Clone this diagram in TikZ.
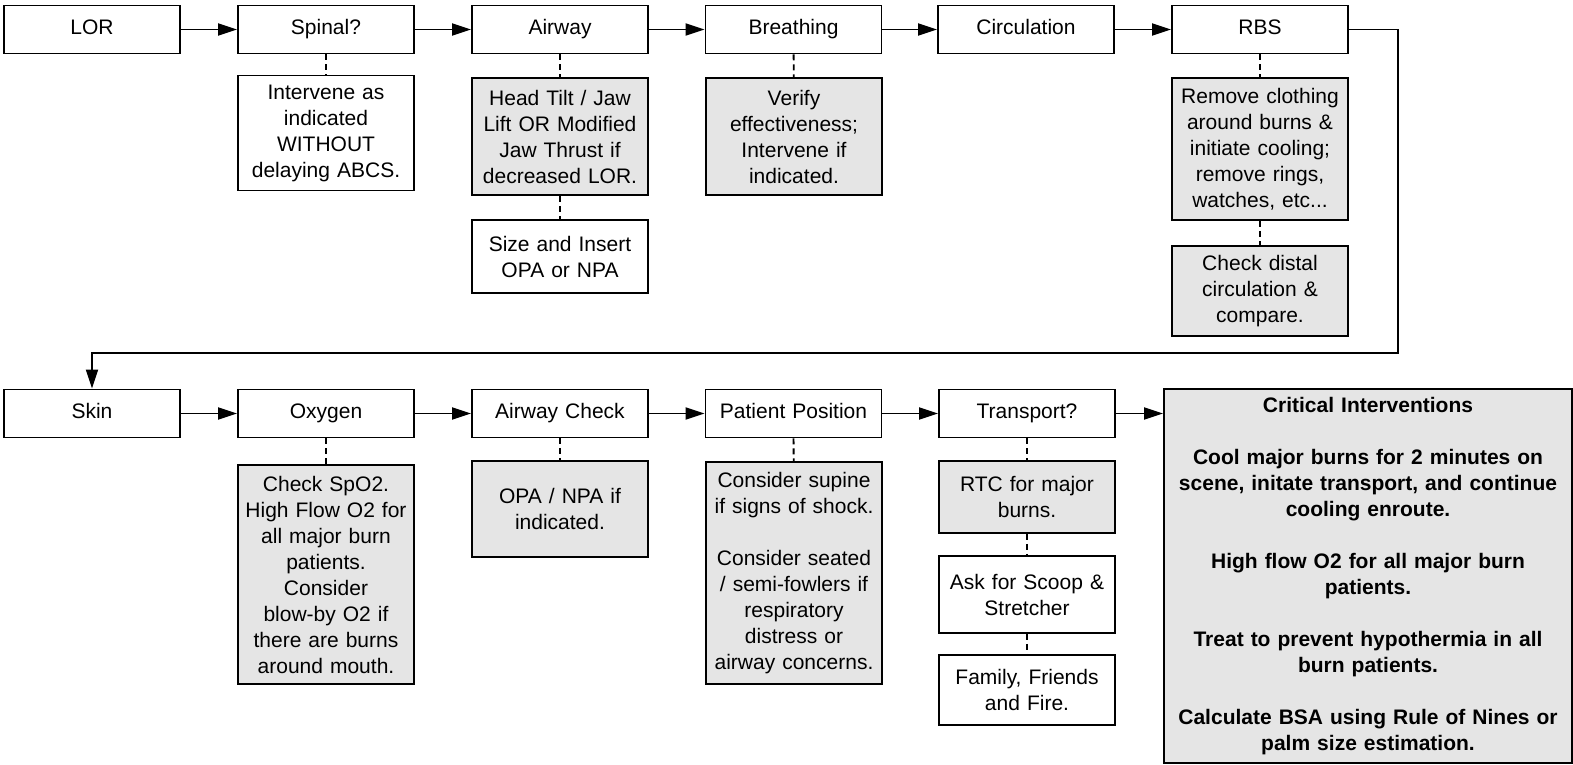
\documentclass[tikz,border=0pt]{standalone}
\usepackage{fontspec}
\setmainfont{Liberation Sans}
\usetikzlibrary{arrows.meta}
\definecolor{boxgray}{HTML}{E5E5E5}
\tikzset{
  box/.style={draw=black, line width=1.8pt, fill=white, inner sep=0pt, align=center,
    font=\fontsize{21}{26}\selectfont, text width=#1-6pt, minimum width=#1},
  box/.default=176pt,
  head/.style={box, minimum height=48pt, text height=15pt, text depth=5pt},
  grey/.style={fill=boxgray},
  flow/.style={line width=1.8pt, -{Triangle[length=19pt,width=12pt]}},
  link/.style={line width=1.8pt, dash pattern=on 6pt off 4pt},
}
\begin{document}
\begin{tikzpicture}[x=1pt,y=-1pt]
\useasboundingbox (0,0) rectangle (1573,765);
% top row
\node[head] (lor) at (92,29.5) {LOR};
\node[head] (sp) at (326,29.5) {Spinal?};
\node[head] (aw) at (560,29.5) {Airway};
\node[head] (br) at (793.5,29.5) {Breathing};
\node[head] (ci) at (1026,29.5) {Circulation};
\node[head] (rbs) at (1260,29.5) {RBS};
% top subs
\node[box, minimum height=115pt] (spS) at (326,133) {Intervene as\\indicated\\WITHOUT\\delaying ABCS.};
\node[box, grey, minimum height=117pt] (awS1) at (560,136.5) {Head Tilt / Jaw\\Lift OR Modified\\Jaw Thrust if\\decreased LOR.};
\node[box, minimum height=73pt] (awS2) at (560,256.5) {Size and Insert\\OPA or NPA};
\node[box, grey, minimum height=117pt] (brS) at (794,136.5) {Verify\\effectiveness;\\Intervene if\\indicated.};
\node[box, grey, minimum height=142pt] (rbS1) at (1260,149) {Remove clothing\\around burns \&\\initiate cooling;\\remove rings,\\watches, etc...};
\node[box, grey, minimum height=90pt] (rbS2) at (1260,291) {Check distal\\circulation \&\\compare.};
% bottom row
\node[head] (skin) at (92,413.5) {Skin};
\node[head] (ox) at (326,413.5) {Oxygen};
\node[head] (ac) at (560,413.5) {Airway Check};
\node[head] (pp) at (793.5,413.5) {Patient Position};
\node[head] (tr) at (1027,413.5) {Transport?};
% bottom subs
\node[box, grey, minimum height=219pt] (oxS) at (326,574.5) {Check SpO2.\\High Flow O2 for\\all major burn\\patients.\\Consider\\blow-by O2 if\\there are burns\\around mouth.};
\node[box, grey, minimum height=96pt] (acS) at (560,509) {OPA / NPA if\\indicated.};
\node[box, grey, minimum height=222pt] (ppS) at (794,573) {Consider supine\\if signs of shock.\\[26pt]Consider seated\\/ semi-fowlers if\\respiratory\\distress or\\airway concerns.};
\node[box, grey, minimum height=72pt] (trS1) at (1027,497) {RTC for major\\burns.};
\node[box, minimum height=77pt] (trS2) at (1027,594.5) {Ask for Scoop \&\\Stretcher};
\node[box, minimum height=70pt] (trS3) at (1027,690) {Family, Friends\\and Fire.};
\node[box=408pt, grey, minimum height=374pt] (crit) at (1368,576) {\bfseries Critical Interventions\\[26pt]\bfseries Cool major burns for 2 minutes on\\\bfseries scene, initate transport, and continue\\\bfseries cooling enroute.\\[26pt]\bfseries High flow O2 for all major burn\\\bfseries patients.\\[26pt]\bfseries Treat to prevent hypothermia in all\\\bfseries burn patients.\\[26pt]\bfseries Calculate BSA using Rule of Nines or\\\bfseries palm size estimation.};
% flow arrows
\draw[flow] (lor) -- (sp);
\draw[flow] (sp) -- (aw);
\draw[flow] (aw) -- (br);
\draw[flow] (br) -- (ci);
\draw[flow] (ci) -- (rbs);
\coordinate (turn) at (1398,353);
\draw[flow] (rbs.east) -| (turn) -| (skin.north);
\draw[flow] (skin) -- (ox);
\draw[flow] (ox) -- (ac);
\draw[flow] (ac) -- (pp);
\draw[flow] (pp) -- (tr);
\draw[flow] (tr.east) -- (tr.east -| crit.west);
% dashed links
\draw[link] (sp) -- (spS);
\draw[link] (aw) -- (awS1);
\draw[link] (awS1) -- (awS2);
\draw[link] (br) -- (brS);
\draw[link] (rbs) -- (rbS1);
\draw[link] (rbS1) -- (rbS2);
\draw[link] (ox) -- (oxS);
\draw[link] (ac) -- (acS);
\draw[link] (pp) -- (ppS);
\draw[link] (tr) -- (trS1);
\draw[link] (trS1) -- (trS2);
\draw[link] (trS2) -- (trS3);
\end{tikzpicture}
\end{document}
